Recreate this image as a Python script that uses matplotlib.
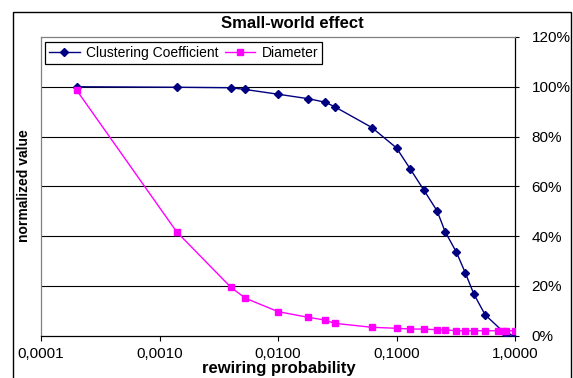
import matplotlib
matplotlib.use("Agg")
import matplotlib.pyplot as plt
from matplotlib.patches import Rectangle
from matplotlib.ticker import FixedLocator, FixedFormatter, NullLocator

plt.rcParams['font.family'] = ['Liberation Sans', 'DejaVu Sans']

# ---- data ----
p_cc = [0.0002, 0.0014, 0.004, 0.0053, 0.01, 0.018, 0.025, 0.03, 0.062, 0.1,
        0.13, 0.17, 0.22, 0.257, 0.32, 0.38, 0.45, 0.56, 0.835, 1.0]
clustering = [100.0, 99.8, 99.6, 98.9, 97.0, 95.2, 93.8, 92.0, 83.6, 75.4,
              67.1, 58.5, 50.1, 41.8, 33.5, 25.3, 16.6, 8.3, 0.6, 0.0]

p_d = [0.0002, 0.0014, 0.004, 0.0053, 0.01, 0.018, 0.025, 0.03, 0.062, 0.1,
       0.13, 0.17, 0.22, 0.257, 0.32, 0.38, 0.45, 0.56, 0.72, 0.79, 0.835, 1.0]
diameter = [98.6, 41.6, 19.4, 15.0, 9.6, 7.3, 6.2, 4.9, 3.3, 2.9,
            2.6, 2.6, 2.3, 2.3, 1.9, 1.9, 1.9, 1.9, 1.9, 1.9, 1.9, 1.9]

x_ticks = [0.0001, 0.001, 0.01, 0.1, 1.0]
x_ticklabels = ["0,0001", "0,0010", "0,0100", "0,1000", "1,0000"]
y_ticks = [0, 20, 40, 60, 80, 100, 120]
y_ticklabels = ["0%", "20%", "40%", "60%", "80%", "100%", "120%"]

W, H = 573, 378
fig = plt.figure(figsize=(W / 100, H / 100), dpi=100)
fig.patch.set_facecolor('white')

L, R, T, B = 41, 515, 37, 335.5
ax = fig.add_axes([L / W, 1 - B / H, (R - L) / W, (B - T) / H])

ax.set_xscale('log')
ax.set_xlim(0.0001, 1.0)
ax.set_ylim(0, 120)

for yv in y_ticks[1:-1]:
    ax.axhline(yv, color='black', lw=0.8, zorder=1)

ax.plot(p_cc, clustering, color='#000080', lw=1.0, marker='D', ms=4.2,
        markerfacecolor='#000080', markeredgecolor='#000080',
        label='Clustering Coefficient', zorder=3)
ax.plot(p_d, diameter, color='#FF00FF', lw=1.0, marker='s', ms=4.8,
        markerfacecolor='#FF00FF', markeredgecolor='#FF00FF',
        label='Diameter', zorder=3)

ax.xaxis.set_major_locator(FixedLocator(x_ticks))
ax.xaxis.set_major_formatter(FixedFormatter(x_ticklabels))
ax.xaxis.set_minor_locator(NullLocator())
ax.tick_params(axis='x', which='major', direction='out', length=3.5, width=0.8,
               pad=5, labelsize=11, colors='black')

ax.yaxis.tick_right()
ax.yaxis.set_major_locator(FixedLocator(y_ticks))
ax.yaxis.set_major_formatter(FixedFormatter(y_ticklabels))
ax.yaxis.set_minor_locator(NullLocator())
ax.tick_params(axis='y', which='major', direction='out', length=3, width=0.8,
               pad=9, labelsize=11, colors='black')

for side in ['top', 'left']:
    ax.spines[side].set_color('#808080')
    ax.spines[side].set_linewidth(0.9)
for side in ['right', 'bottom']:
    ax.spines[side].set_color('black')
    ax.spines[side].set_linewidth(0.9)

# legend
leg = ax.legend(loc='upper left', bbox_to_anchor=(45 / W, 1 - 42 / H),
                bbox_transform=fig.transFigure, ncol=2, fontsize=10,
                frameon=True, fancybox=False, framealpha=1, edgecolor='black',
                borderpad=0.3, handlelength=2.2, handletextpad=0.45,
                columnspacing=0.45, borderaxespad=0)
leg.get_frame().set_linewidth(0.9)

# titles
fig.text(292 / W, 1 - 24 / H, "Small-world effect", ha='center', va='center',
         fontsize=12, fontweight='bold')
fig.text(279 / W, 1 - 369 / H, "rewiring probability", ha='center', va='center',
         fontsize=12, fontweight='bold')
fig.text(24 / W, 1 - 186 / H, "normalized value", ha='center', va='center',
         rotation=90, fontsize=10, fontweight='bold')

# outer chart frame
fig.add_artist(Rectangle((13 / W, -0.05), (571 - 13) / W, (H - 12) / H + 0.05,
                         transform=fig.transFigure, fill=False,
                         edgecolor='black', lw=1.0))

fig.savefig("out.png", dpi=100, facecolor='white')
